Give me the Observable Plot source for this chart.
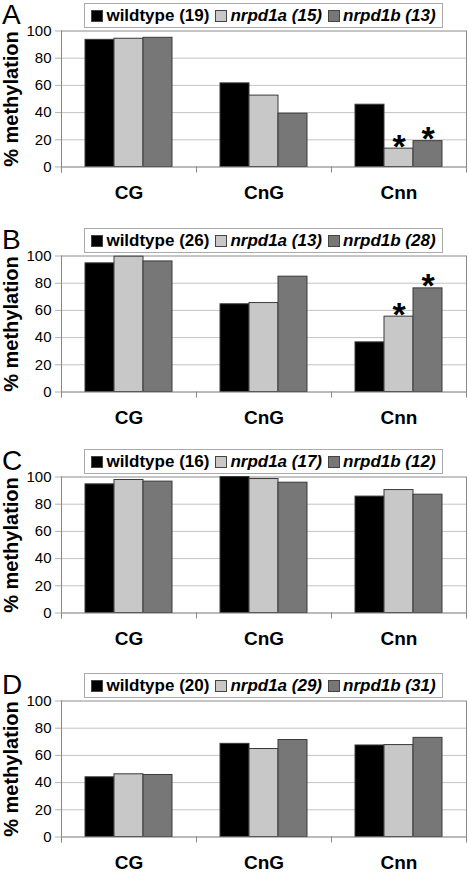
<!DOCTYPE html>
<html><head><meta charset="utf-8">
<script src="https://cdn.jsdelivr.net/npm/d3@7"></script>
<script src="https://cdn.jsdelivr.net/npm/@observablehq/plot@0.6"></script>
<style>
html,body{margin:0;padding:0;background:#fff;width:470px;height:875px;overflow:hidden;font-family:"Liberation Sans",Arial,Helvetica,sans-serif;}
.panel{position:absolute;left:0;width:470px;height:215px;}
.letter{position:absolute;left:2px;top:1px;font-size:28px;line-height:28px;z-index:3;}
.legend{position:absolute;left:84px;top:3px;width:357px;height:23px;border:1px solid #aaa;display:flex;align-items:center;justify-content:center;font-size:17px;font-weight:bold;white-space:nowrap;background:#fff;z-index:2;}
.sw{width:10px;height:10px;border:1px solid #444;margin-right:3px;display:inline-block;}
.item{display:flex;align-items:center;margin:0 3px;}
.panel svg{position:absolute;left:0;top:0;}
g[aria-label="y-axis label"] text{font-size:20px;font-weight:bold;}
g[aria-label="fx-axis tick label"] text{font-size:19px;font-weight:bold;}
</style>
</head><body>
<div id="root"></div>
<script>
const categories = ["CG", "CnG", "Cnn"];
const series = ["wildtype", "nrpd1a", "nrpd1b"];
const italicSeries = ["nrpd1a", "nrpd1b"];
const colors = ["#000000", "#c8c8c8", "#777777"];
const yTicks = [0, 20, 40, 60, 80, 100];

// values[category][series]
const valuesA = [[93.5, 94.3, 95.0], [61.5, 52.5, 39.2], [45.8, 13.5, 19.0]];
const valuesB = [[94.6, 99.5, 96.0], [64.5, 65.4, 84.8], [36.5, 55.4, 76.2]];
const valuesC = [[94.6, 97.8, 96.6], [100, 98.5, 95.8], [85.6, 90.4, 87.0]];
const valuesD = [[43.9, 46.1, 45.6], [68.5, 64.7, 71.3], [67.3, 67.6, 72.9]];

const countsA = [19, 15, 13];
const countsB = [26, 13, 28];
const countsC = [16, 17, 12];
const countsD = [20, 29, 31];

const starsA = [["Cnn", "nrpd1a"], ["Cnn", "nrpd1b"]];
const starsB = [["Cnn", "nrpd1a"], ["Cnn", "nrpd1b"]];
const starsC = [];
const starsD = [];

const panelLetters = ["A", "B", "C", "D"];
const panelTops = [0, 225, 446, 670];

const allValues = [valuesA, valuesB, valuesC, valuesD];
const allCounts = [countsA, countsB, countsC, countsD];
const allStars = [starsA, starsB, starsC, starsD];

const root = document.getElementById("root");

panelLetters.forEach((letter, p) => {
  const values = allValues[p], counts = allCounts[p], stars = allStars[p];
  const data = categories.flatMap((c, i) => series.map((s, j) => ({category: c, series: s, value: values[i][j]})));
  const starData = stars.map(([c, s]) => data.find(d => d.category === c && d.series === s));

  const div = document.createElement("div");
  div.className = "panel";
  div.style.top = panelTops[p] + "px";

  const let_ = document.createElement("div");
  let_.className = "letter";
  let_.textContent = letter;
  div.appendChild(let_);

  const leg = document.createElement("div");
  leg.className = "legend";
  series.forEach((s, j) => {
    const it = document.createElement("span");
    it.className = "item";
    const sw = document.createElement("span");
    sw.className = "sw";
    sw.style.background = colors[j];
    const tx = document.createElement("span");
    tx.textContent = s + " (" + counts[j] + ")";
    if (italicSeries.includes(s)) tx.style.fontStyle = "italic";
    it.appendChild(sw);
    it.appendChild(tx);
    leg.appendChild(it);
  });
  div.appendChild(leg);

  const plotH = 136;
  const chart = Plot.plot({
    width: 470,
    height: 205,
    marginLeft: 60,
    marginRight: 2.5,
    marginTop: 30.5,
    marginBottom: 38.5,
    style: {fontFamily: "'Liberation Sans', Arial, sans-serif", fontSize: "15px", color: "#000", background: "transparent", overflow: "visible"},
    fx: {domain: categories, padding: 0, label: null, axis: null},
    x: {domain: series, paddingInner: 0, paddingOuter: 0.77, axis: null},
    y: {domain: [0, 100], label: "% methylation", labelArrow: "none"},
    color: {domain: series, range: colors},
    marks: [
      Plot.gridY([20, 40, 60, 80], {stroke: "#c4c4c4", strokeOpacity: 1}),
      Plot.ruleY([100], {stroke: "#8c8c8c"}),
      Plot.barY(data, {fx: "category", x: "series", y: "value", fill: "series", stroke: "#3a3a3a", strokeWidth: 1, inset: 0}),
      Plot.ruleY([0], {stroke: "#777"}),
      Plot.frame({anchor: "left", stroke: "#888", facetAnchor: "left", insetBottom: -5}),
      Plot.frame({anchor: "right", stroke: "#888", facetAnchor: "right", insetBottom: -5}),
      Plot.frame({anchor: "left", stroke: "#888", insetTop: plotH, insetBottom: -5}),
      Plot.text(starData, {fx: "category", x: "series", y: "value", text: () => "*", fontSize: 34, fontWeight: "bold", lineAnchor: "bottom", dy: 9}),
      Plot.axisY(yTicks, {tickSize: 6, tickPadding: 4, stroke: "#b0b0b0", fontSize: 15, label: "% methylation", labelArrow: "none", labelAnchor: "center", labelOffset: 58, dy: 0}),
      Plot.axisFx({anchor: "bottom", tickSize: 0, tickPadding: 18, fontSize: 19, fontWeight: "bold", label: null})
    ]
  });
  div.appendChild(chart);
  root.appendChild(div);
});
</script>
</body></html>
